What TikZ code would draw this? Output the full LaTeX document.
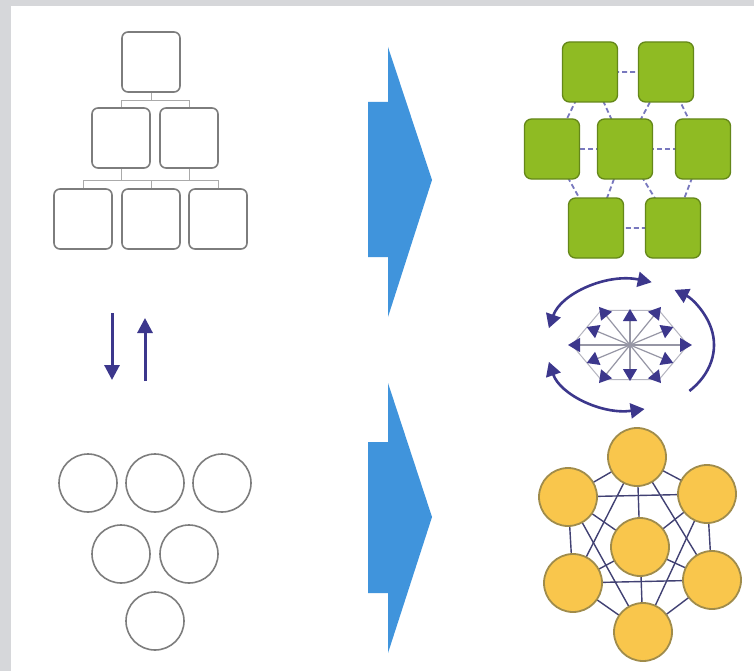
\documentclass[tikz,border=0pt]{standalone}
\usetikzlibrary{arrows.meta,calc}
\pgfdeclarelayer{paper}
\pgfdeclarelayer{edges}
\pgfsetlayers{paper,edges,main}
\definecolor{frame}{RGB}{214,215,218}
\definecolor{hgray}{RGB}{125,125,125}
\definecolor{hline}{RGB}{170,170,170}
\definecolor{bigblue}{RGB}{64,148,220}
\definecolor{navy}{RGB}{60,55,140}
\definecolor{gfill}{RGB}{143,187,35}
\definecolor{gdraw}{RGB}{100,135,25}
\definecolor{gedge}{RGB}{120,120,190}
\definecolor{ofill}{RGB}{249,198,76}
\definecolor{odraw}{RGB}{160,140,75}
\definecolor{oedge}{RGB}{65,65,115}
\definecolor{spokegray}{RGB}{150,150,165}
\tikzset{
  hbox/.style={draw=hgray, fill=white, line width=1.6pt, rounded corners=6pt,
    minimum width=58pt, minimum height=60pt, inner sep=0pt},
  hconn/.style={draw=hline, line width=0.9pt},
  ring/.style={circle, draw=hgray, fill=white, line width=1.6pt, minimum size=58pt, inner sep=0pt},
  gbox/.style={draw=gdraw, fill=gfill, line width=1.3pt, rounded corners=7pt,
    minimum width=55pt, minimum height=60pt, inner sep=0pt},
  gconn/.style={draw=gedge, line width=1.8pt, dash pattern=on 5pt off 3pt},
  obal/.style={circle, draw=odraw, fill=ofill, line width=1.8pt, minimum size=58pt, inner sep=0pt},
  oconn/.style={draw=oedge, line width=1.4pt},
  updown/.style={draw=navy, line width=3pt, -{Triangle[width=15pt,length=15pt]}},
  spoke/.style={draw=spokegray, line width=1.2pt, -{Triangle[width=14pt,length=12pt,color=navy]}},
  iring/.style={draw=spokegray!70, line width=1pt},
  loop/.style={draw=navy, line width=2.6pt},
  tipa/.style={-{Triangle[width=15pt,length=14pt]}},
  tipb/.style={{Triangle[width=15pt,length=14pt]}-{Triangle[width=15pt,length=14pt]}},
}
\begin{document}
\begin{tikzpicture}[x=1pt,y=-1pt]
\useasboundingbox (0,0) rectangle (754,671);
\begin{pgfonlayer}{paper}
  \fill[frame] (0,0) rectangle (754,671);
  \fill[white] (11,6) rectangle (754,671);
\end{pgfonlayer}

% ---------- hierarchy ----------
\node[hbox] (h1) at (151,62) {};
\node[hbox] (h2) at (121,138) {};
\node[hbox] (h3) at (189,138) {};
\node[hbox] (h4) at (83,219) {};
\node[hbox] (h5) at (151,219) {};
\node[hbox] (h6) at (218,219) {};
\begin{pgfonlayer}{edges}
  \coordinate (j1) at ($(h1.south)+(0,8)$);
  \draw[hconn] (h1.south) -- (j1);
  \draw[hconn] (j1) -| (h2.north);
  \draw[hconn] (j1) -| (h3.north);
  \coordinate (j2) at ($(h5.north)+(0,-8)$);
  \draw[hconn] (h2.south) |- (j2);
  \draw[hconn] (h3.south) |- (j2);
  \draw[hconn] (j2) -| (h4.north);
  \draw[hconn] (j2) -| (h6.north);
  \draw[hconn] (j2) -- (h5.north);
\end{pgfonlayer}

% ---------- down / up arrows ----------
\coordinate (d0) at (112,313);
\coordinate (d1) at (112,380);
\coordinate (u0) at (145,381);
\coordinate (u1) at (145,318);
\draw[updown] (d0) -- (d1);
\draw[updown] (u0) -- (u1);

% ---------- circles ----------
\node[ring] (c1) at (88,483) {};
\node[ring] (c2) at (155,483) {};
\node[ring] (c3) at (222,483) {};
\node[ring] (c4) at (121,554) {};
\node[ring] (c5) at (189,554) {};
\node[ring] (c6) at (155,621) {};

% ---------- big blue arrows ----------
\fill[bigblue] (368,102) -- (388,102) -- (388,47) -- (432,180) -- (388,317)
  -- (388,257) -- (368,257) -- cycle;
\fill[bigblue] (368,442) -- (388,442) -- (388,383) -- (432,517) -- (388,653)
  -- (388,593) -- (368,593) -- cycle;

% ---------- green network ----------
\node[gbox] (g1) at (590,72) {};
\node[gbox] (g2) at (666,72) {};
\node[gbox] (g3) at (552,149) {};
\node[gbox] (g4) at (625,149) {};
\node[gbox] (g5) at (703,149) {};
\node[gbox] (g6) at (596,228) {};
\node[gbox] (g7) at (673,228) {};
\begin{pgfonlayer}{edges}
  \draw[gconn] (g1.center) -- (g2.center) -- (g5.center) -- (g7.center)
    -- (g6.center) -- (g3.center) -- (g1.center);
  \foreach \n in {g1,g2,g3,g5,g6,g7} \draw[gconn] (g4.center) -- (\n.center);
\end{pgfonlayer}

% ---------- circulation icon ----------
\coordinate (ic) at (630,345);
\draw[iring] ($(ic)+(0:58 and 40)$) \foreach \a in {60,120,...,300} { -- ($(ic)+(\a:58 and 40)$) } -- cycle;
\foreach \a in {0,60,...,300}
  \draw[spoke] (ic) -- ($(ic)+(\a:62 and 44)$);
\foreach \a in {30,90,...,330}
  \draw[spoke] (ic) -- ($(ic)+(\a:50 and 36)$);
\draw[loop,tipb] ($(ic)+(195:84 and 65)$) arc[start angle=195, end angle=285, x radius=84, y radius=65];
\draw[loop,tipa] ($(ic)+(45:84 and 65)$) arc[start angle=45, end angle=-58, x radius=84, y radius=65];
\draw[loop,tipb] ($(ic)+(80:84 and 65)$) arc[start angle=80, end angle=165, x radius=84, y radius=65];

% ---------- orange network ----------
\node[obal] (o1) at (637,457) {};
\node[obal] (o2) at (568,497) {};
\node[obal] (o3) at (707,494) {};
\node[obal] (o4) at (640,547) {};
\node[obal] (o5) at (573,583) {};
\node[obal] (o6) at (712,580) {};
\node[obal] (o7) at (643,632) {};
\begin{pgfonlayer}{edges}
  \draw[oconn] (o1.center) -- (o3.center) -- (o6.center) -- (o7.center)
    -- (o5.center) -- (o2.center) -- (o1.center);
  \draw[oconn] (o2.center) -- (o3.center) -- (o7.center) -- cycle;
  \draw[oconn] (o1.center) -- (o6.center) -- (o5.center) -- cycle;
  \foreach \n in {o1,o2,o3,o5,o6,o7} \draw[oconn] (o4.center) -- (\n.center);
\end{pgfonlayer}
\end{tikzpicture}
\end{document}
